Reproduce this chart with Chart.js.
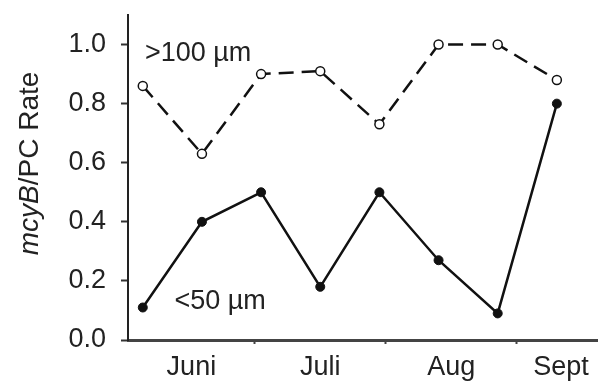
<!DOCTYPE html>
<html>
<head>
<meta charset="utf-8">
<script src="https://cdn.jsdelivr.net/npm/chart.js@4"></script>
<style>
  html, body { margin: 0; padding: 0; background: #fff; }
  #wrap { width: 606px; height: 383px; }
</style>
</head>
<body>
<div id="wrap"><canvas id="chart" width="606" height="383"></canvas></div>
<script>
// sampling days, counted from 1 June
const sampleDays = [3.5, 17.5, 31.5, 45.5, 59.5, 73.5, 87.5, 101.5]
const large = [0.86, 0.63, 0.90, 0.91, 0.73, 1.00, 1.00, 0.88]   // >100 µm
const small = [0.11, 0.40, 0.50, 0.18, 0.50, 0.27, 0.09, 0.80]   // <50 µm

const months = ['Juni', 'Juli', 'Aug', 'Sept']
const monthCenters = [15, 45.5, 76.5, 102.5]
const monthBounds = [30, 61, 92]
const yTicks = [0, 0.2, 0.4, 0.6, 0.8, 1.0]

// series labels placed in data units [day, value]
const seriesNotes = [
  { text: '>100 µm', at: [4, 0.97] },
  { text: '<50 µm', at: [11, 0.13] }
]

const FONT = '"Liberation Sans", Arial, sans-serif'
const TEXT = '#222'

// x ticks: month names between boundary marks
const xTicks = []
monthCenters.forEach((c, i) => {
  xTicks.push({ value: c, label: months[i] })
  if (i < monthBounds.length) xTicks.push({ value: monthBounds[i], label: '' })
})

const notesPlugin = {
  id: 'notes',
  afterDraw(chart) {
    const { ctx, scales: { x, y }, chartArea } = chart
    ctx.save()
    ctx.fillStyle = TEXT
    ctx.font = `27px ${FONT}`
    ctx.textBaseline = 'middle'
    ctx.textAlign = 'left'
    seriesNotes.forEach(n => {
      ctx.fillText(n.text, x.getPixelForValue(n.at[0]), y.getPixelForValue(n.at[1]))
    })

    // y axis title: "mcyB" italic, "/PC Rate" upright
    const cy = (chartArea.top + chartArea.bottom) / 2 - 14
    ctx.translate(30, cy)
    ctx.rotate(-Math.PI / 2)
    const it = `italic 28px ${FONT}`
    const up = `28px ${FONT}`
    ctx.font = it
    const w1 = ctx.measureText('mcyB').width
    ctx.font = up
    const w2 = ctx.measureText('/PC Rate').width
    let sx = -(w1 + w2) / 2
    ctx.font = it
    ctx.fillText('mcyB', sx, 0)
    ctx.font = up
    ctx.fillText('/PC Rate', sx + w1, 0)
    ctx.restore()
  }
}

new Chart(document.getElementById('chart'), {
  type: 'line',
  data: {
    datasets: [
      {
        label: '>100 µm',
        data: sampleDays.map((d, i) => ({ x: d, y: large[i] })),
        borderColor: '#111',
        borderWidth: 2.5,
        borderDash: [15, 8],
        pointRadius: 4.5,
        pointBackgroundColor: '#fff',
        pointBorderColor: '#111',
        pointBorderWidth: 1.5,
        tension: 0
      },
      {
        label: '<50 µm',
        data: sampleDays.map((d, i) => ({ x: d, y: small[i] })),
        borderColor: '#111',
        borderWidth: 2.5,
        pointRadius: 4.5,
        pointBackgroundColor: '#111',
        pointBorderColor: '#111',
        pointBorderWidth: 1,
        tension: 0
      }
    ]
  },
  options: {
    responsive: false,
    animation: false,
    layout: { padding: { top: 15, right: 9, left: 0, bottom: 0 } },
    plugins: {
      legend: { display: false },
      tooltip: { enabled: false }
    },
    scales: {
      x: {
        type: 'linear',
        min: 0,
        max: 111,
        afterBuildTicks: (scale) => { scale.ticks = xTicks.map(t => ({ value: t.value })) },
        afterFit: (scale) => { scale.height = 43 },
        border: { color: '#444', width: 3 },
        grid: {
          drawOnChartArea: false,
          tickLength: 4,
          tickWidth: 2,
          tickColor: (ctx) => (ctx.index % 2 === 1 ? '#444' : 'rgba(0,0,0,0)')
        },
        ticks: {
          autoSkip: false,
          maxRotation: 0,
          padding: 7,
          color: TEXT,
          font: { family: FONT, size: 27 },
          callback: (v, i) => xTicks[i] ? xTicks[i].label : ''
        }
      },
      y: {
        min: 0,
        max: 1.1,
        afterBuildTicks: (scale) => { scale.ticks = yTicks.map(v => ({ value: v })) },
        afterFit: (scale) => {
          scale.width = 128
          scale.paddingTop = 0
          scale.paddingBottom = 0
        },
        border: { color: '#222', width: 2 },
        grid: {
          drawOnChartArea: false,
          tickLength: 7,
          tickWidth: 2,
          tickColor: '#333'
        },
        ticks: {
          padding: 15,
          color: TEXT,
          font: { family: FONT, size: 27 },
          callback: (v) => v.toFixed(1)
        }
      }
    }
  },
  plugins: [notesPlugin]
})
</script>
</body>
</html>
